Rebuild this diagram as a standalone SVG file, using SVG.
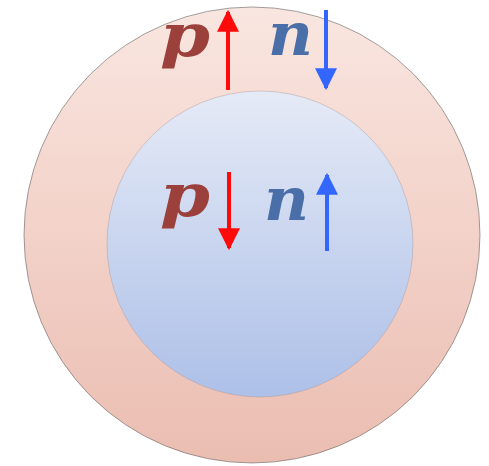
<svg xmlns="http://www.w3.org/2000/svg" width="489" height="466" viewBox="0 0 489 466">
<defs>
<linearGradient id="gOuter" x1="0" y1="0" x2="0" y2="1">
<stop offset="0" stop-color="#f9e6e0"/>
<stop offset="1" stop-color="#ebbdb1"/>
</linearGradient>
<linearGradient id="gInner" x1="0" y1="0" x2="0" y2="1">
<stop offset="0" stop-color="#e5eaf6"/>
<stop offset="1" stop-color="#adc0e8"/>
</linearGradient>
<marker id="headRed" viewBox="0 0 10 10" refX="9" refY="5" markerWidth="5.5" markerHeight="5.5" markerUnits="strokeWidth" orient="auto">
<path d="M0,0 L10,5 L0,10 Z" fill="#ff0a0a"/>
</marker>
<marker id="headBlue" viewBox="0 0 10 10" refX="9" refY="5" markerWidth="5.5" markerHeight="5.5" markerUnits="strokeWidth" orient="auto">
<path d="M0,0 L10,5 L0,10 Z" fill="#3366ff"/>
</marker>
</defs>
<style>
.lbl{font-family:"DejaVu Serif","Liberation Serif",serif;font-weight:bold;font-style:italic;font-size:60px}
.p{fill:#9c403c}
.n{fill:#4a6fa8}
.ar{stroke:#ff0a0a;stroke-width:4;fill:none}
.ab{stroke:#3366ff;stroke-width:4;fill:none}
</style>
<g id="outer">
<circle cx="252" cy="235" r="228" fill="url(#gOuter)" stroke="#5a5a5a" stroke-opacity="0.55" stroke-width="1"/>
</g>
<g id="inner">
<circle cx="260" cy="244" r="153" fill="url(#gInner)" stroke="#9a8a90" stroke-opacity="0.35" stroke-width="1"/>
</g>
<g id="labels">
<text class="lbl p" x="160" y="56" textLength="50" lengthAdjust="spacingAndGlyphs">p</text>
<text class="lbl n" x="268" y="55" textLength="45" lengthAdjust="spacingAndGlyphs">n</text>
<text class="lbl p" x="160" y="216" textLength="50" lengthAdjust="spacingAndGlyphs">p</text>
<text class="lbl n" x="264" y="220" textLength="45" lengthAdjust="spacingAndGlyphs">n</text>
</g>
<g id="connectors">
<line class="ar" x1="228" y1="90" x2="228" y2="12" marker-end="url(#headRed)"/>
<line class="ab" x1="326" y1="10" x2="326" y2="88" marker-end="url(#headBlue)"/>
<line class="ar" x1="229" y1="172" x2="229" y2="248" marker-end="url(#headRed)"/>
<line class="ab" x1="327" y1="251" x2="327" y2="175" marker-end="url(#headBlue)"/>
</g>
</svg>
